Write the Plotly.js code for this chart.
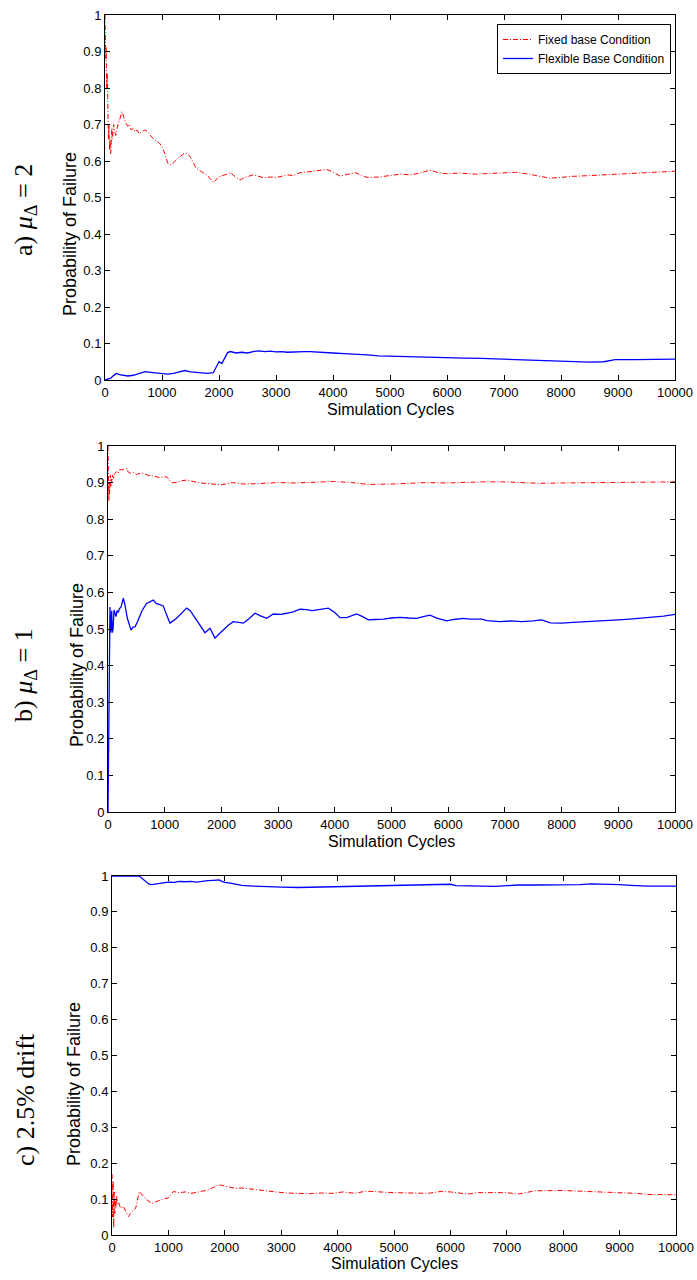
<!DOCTYPE html>
<html>
<head>
<meta charset="utf-8">
<script src="https://cdn.plot.ly/plotly-3.0.1.min.js"></script>
<style>
  html, body { margin: 0; padding: 0; background: #fff; }
  #chart { width: 697px; height: 1280px; }
</style>
</head>
<body>
<div id="chart"></div>
<script>
// ---- Panel a) mu_Delta = 2 ----
const aFixedCycles = [0,5,10,15,20,30,40,50,60,70,80,90,100,110,120,130,150,170,190,210,230,250,270,300,330,360,400,430,460,500,530,560,600,650,700,750,800,850,900,950,1000,1050,1100,1150,1200,1300,1400,1450,1500,1600,1700,1800,1900,1950,2000,2100,2200,2300,2370,2450,2600,2700,2780,2900,3000,3100,3200,3300,3420,3550,3700,3890,4000,4120,4250,4390,4500,4600,4800,5000,5180,5350,5500,5700,5850,6000,6200,6500,6800,7000,7200,7400,7600,7800,8000,8200,8500,8800,9000,9300,9600,10000];
const aFixedProb = [1.0,0.93,0.97,0.88,0.91,0.8,0.84,0.72,0.66,0.7,0.63,0.66,0.62,0.65,0.69,0.66,0.70,0.68,0.67,0.69,0.70,0.71,0.715,0.735,0.72,0.705,0.695,0.70,0.685,0.69,0.68,0.685,0.675,0.68,0.685,0.68,0.67,0.66,0.655,0.65,0.64,0.62,0.594,0.59,0.595,0.61,0.622,0.62,0.61,0.58,0.57,0.56,0.541,0.55,0.557,0.562,0.568,0.555,0.548,0.555,0.562,0.558,0.554,0.556,0.555,0.558,0.562,0.56,0.568,0.57,0.573,0.577,0.57,0.559,0.563,0.568,0.56,0.555,0.556,0.56,0.564,0.562,0.566,0.575,0.568,0.565,0.567,0.564,0.567,0.568,0.569,0.565,0.56,0.553,0.555,0.558,0.56,0.562,0.564,0.566,0.569,0.572];
const aFlexCycles = [0,50,100,150,200,250,300,400,500,600,700,800,900,1000,1100,1200,1300,1400,1500,1600,1700,1800,1900,1950,2000,2050,2100,2150,2200,2300,2400,2500,2600,2700,2800,2900,3000,3100,3200,3300,3400,3500,3600,3800,4000,4200,4400,4600,4800,5000,5300,5600,6000,6300,6600,7000,7300,7600,7900,8200,8500,8750,8850,8950,9300,9700,10000];
const aFlexProb = [0.0,0.002,0.005,0.012,0.018,0.015,0.013,0.011,0.013,0.018,0.023,0.021,0.019,0.018,0.016,0.018,0.022,0.026,0.022,0.02,0.019,0.018,0.02,0.035,0.05,0.045,0.06,0.075,0.078,0.074,0.076,0.074,0.078,0.08,0.078,0.079,0.077,0.078,0.076,0.077,0.079,0.078,0.078,0.077,0.074,0.072,0.071,0.069,0.066,0.065,0.064,0.063,0.061,0.06,0.059,0.057,0.056,0.054,0.052,0.051,0.049,0.05,0.052,0.056,0.056,0.057,0.057];

// ---- Panel b) mu_Delta = 1 ----
const bFixedCycles = [0,5,10,15,20,30,40,50,60,70,80,100,120,150,180,200,250,330,350,400,450,500,550,620,700,800,900,1035,1123,1200,1300,1388,1500,1590,1700,1800,1900,2000,2200,2400,2600,2800,3000,3300,3600,4000,4300,4600,5000,5300,5600,6000,6300,6600,7000,7300,7600,8000,8500,9000,9500,10000];
const bFixedProb = [1.0,0.96,0.88,0.85,0.9,0.87,0.92,0.89,0.91,0.9,0.92,0.91,0.925,0.93,0.925,0.935,0.935,0.939,0.93,0.925,0.927,0.922,0.925,0.926,0.92,0.918,0.914,0.916,0.9,0.9,0.905,0.907,0.903,0.9,0.898,0.897,0.895,0.894,0.9,0.896,0.897,0.899,0.9,0.899,0.9,0.903,0.9,0.895,0.896,0.898,0.9,0.899,0.901,0.902,0.902,0.9,0.898,0.899,0.9,0.901,0.902,0.902];
const bFlexCycles = [0,5,10,15,20,25,30,35,45,55,65,75,90,106,120,141,160,180,200,230,270,300,340,380,406,440,476,520,600,680,741,800,850,900,975,1030,1093,1200,1300,1388,1450,1564,1640,1711,1799,1887,1950,2034,2120,2210,2300,2387,2500,2593,2700,2799,2915,3050,3151,3268,3386,3500,3600,3700,3886,4000,4092,4209,4300,4386,4500,4591,4700,4856,5000,5150,5300,5444,5560,5679,5800,5973,6100,6267,6385,6591,6679,6914,7100,7300,7500,7650,7800,8000,8200,8500,8700,9000,9200,9500,9800,10000];
const bFlexProb = [0.0,0.1,0.3,0.4,0.35,0.45,0.5,0.56,0.49,0.53,0.55,0.49,0.5,0.552,0.545,0.534,0.55,0.545,0.555,0.56,0.584,0.565,0.53,0.505,0.497,0.505,0.506,0.52,0.55,0.57,0.575,0.579,0.57,0.568,0.563,0.54,0.516,0.528,0.545,0.557,0.55,0.525,0.505,0.49,0.502,0.475,0.485,0.497,0.51,0.52,0.518,0.516,0.53,0.543,0.535,0.529,0.541,0.54,0.543,0.547,0.554,0.553,0.55,0.552,0.557,0.545,0.531,0.531,0.537,0.541,0.533,0.525,0.526,0.527,0.53,0.532,0.53,0.529,0.534,0.538,0.53,0.522,0.526,0.529,0.527,0.527,0.523,0.52,0.522,0.52,0.522,0.525,0.517,0.516,0.518,0.52,0.522,0.525,0.527,0.53,0.535,0.54];

// ---- Panel c) 2.5% drift ----
const cFixedCycles = [0,10,20,30,40,50,60,70,80,100,120,150,200,250,290,330,380,420,484,550,600,704,800,900,1000,1087,1200,1300,1400,1500,1600,1700,1800,1900,2000,2100,2200,2300,2500,2700,2900,3100,3300,3500,3700,3900,4100,4300,4500,4700,5000,5300,5600,5816,6000,6300,6500,7000,7200,7500,7800,8000,8300,8500,9000,9300,9500,10000];
const cFixedProb = [0.17,0.05,0.15,0.02,0.12,0.06,0.1,0.075,0.11,0.085,0.09,0.075,0.08,0.065,0.051,0.06,0.07,0.075,0.121,0.11,0.1,0.088,0.095,0.1,0.103,0.121,0.118,0.12,0.116,0.118,0.122,0.125,0.132,0.14,0.136,0.132,0.13,0.131,0.127,0.122,0.12,0.117,0.116,0.115,0.117,0.116,0.12,0.116,0.122,0.12,0.118,0.117,0.116,0.121,0.12,0.114,0.118,0.118,0.114,0.123,0.124,0.124,0.122,0.121,0.118,0.116,0.113,0.112];
const cFlexCycles = [0,480,520,600,650,700,800,900,1000,1100,1200,1300,1400,1500,1600,1700,1800,1900,1950,2000,2100,2200,2300,2500,2700,3000,3300,3600,4000,4300,4600,4800,5200,5600,5800,6000,6100,6400,6600,6800,7000,7200,7500,8000,8300,8500,8800,9000,9200,9500,10000];
const cFlexProb = [1.0,1.0,0.995,0.985,0.978,0.976,0.978,0.981,0.983,0.982,0.985,0.984,0.985,0.983,0.986,0.987,0.988,0.989,0.985,0.982,0.98,0.976,0.974,0.972,0.97,0.969,0.968,0.969,0.97,0.971,0.972,0.972,0.974,0.974,0.976,0.977,0.973,0.972,0.973,0.971,0.973,0.975,0.975,0.975,0.976,0.978,0.978,0.976,0.974,0.972,0.972];

// ---- Axis ticks and labels ----
const cycleTicks = [0,1000,2000,3000,4000,5000,6000,7000,8000,9000,10000];
const probTicks = [0,0.1,0.2,0.3,0.4,0.5,0.6,0.7,0.8,0.9,1];
const probTickText = ['0','0.1','0.2','0.3','0.4','0.5','0.6','0.7','0.8','0.9','1'];
const seriesNames = ['Fixed base Condition', 'Flexible Base Condition'];
const panelLabels = ['a) <i>μ</i><sub>Δ</sub> = 2', 'b) <i>μ</i><sub>Δ</sub> = 1', 'c) 2.5% drift'];
const xTitle = 'Simulation Cycles';
const yTitle = 'Probability of Failure';

// ---- Page geometry (pixels) ----
const W = 697, H = 1280;
const boxes = [
  {l: 105, r: 675, t: 15,  b: 380, yTitleX: 70, yTitleY: 234, labelY: 210, xTitleY: 409},
  {l: 108, r: 675, t: 446, b: 812, yTitleX: 77, yTitleY: 665, labelY: 675, xTitleY: 841},
  {l: 112, r: 676, t: 876, b: 1235, yTitleX: 74, yTitleY: 1084, labelY: 1100, xTitleY: 1263}
];
const px = v => v / W;
const py = v => 1 - v / H;

const RED = '#ff0000', BLUE = '#0000ff';
const sansFont = {family: 'Liberation Sans, Arial, sans-serif', size: 13, color: '#000'};

const panels = [
  [aFixedCycles, aFixedProb, aFlexCycles, aFlexProb],
  [bFixedCycles, bFixedProb, bFlexCycles, bFlexProb],
  [cFixedCycles, cFixedProb, cFlexCycles, cFlexProb]
];

const traces = [];
panels.forEach((p, i) => {
  const sfx = i === 0 ? '' : String(i + 1);
  traces.push({
    x: p[0], y: p[1], type: 'scatter', mode: 'lines',
    name: seriesNames[0], showlegend: i === 0,
    xaxis: 'x' + sfx, yaxis: 'y' + sfx,
    line: {color: RED, width: 1, dash: '5px,2px,1px,2px'}
  });
  traces.push({
    x: p[2], y: p[3], type: 'scatter', mode: 'lines',
    name: seriesNames[1], showlegend: i === 0,
    xaxis: 'x' + sfx, yaxis: 'y' + sfx,
    line: {color: BLUE, width: 1.3}
  });
});

const layout = {
  width: W, height: H,
  margin: {l: 0, r: 0, t: 0, b: 0},
  paper_bgcolor: '#fff', plot_bgcolor: '#fff',
  showlegend: true,
  legend: {
    x: px(497), y: py(24), xanchor: 'left', yanchor: 'top',
    bgcolor: '#fff', bordercolor: '#000', borderwidth: 1,
    font: {family: sansFont.family, size: 12, color: '#000'},
    itemwidth: 30, tracegroupgap: 0
  },
  annotations: []
};

boxes.forEach((b, i) => {
  const sfx = i === 0 ? '' : String(i + 1);
  layout['xaxis' + sfx] = {
    domain: [px(b.l), px(b.r)], anchor: 'y' + sfx,
    range: [0, 10000], tickvals: cycleTicks, tickformat: 'd',
    ticks: 'inside', ticklen: 5, tickcolor: '#000',
    showline: true, linecolor: '#000', linewidth: 1, mirror: 'ticks',
    showgrid: false, zeroline: false, tickfont: sansFont, fixedrange: true
  };
  layout['yaxis' + sfx] = {
    domain: [py(b.b), py(b.t)], anchor: 'x' + sfx,
    range: [0, 1], tickvals: probTicks, ticktext: probTickText,
    ticks: 'inside', ticklen: 5, tickcolor: '#000',
    showline: true, linecolor: '#000', linewidth: 1, mirror: 'ticks',
    showgrid: false, zeroline: false, tickfont: sansFont, fixedrange: true
  };
  layout.annotations.push({
    xref: 'paper', yref: 'paper', x: px((b.l + b.r) / 2), y: py(b.xTitleY),
    text: xTitle, showarrow: false, xanchor: 'center', yanchor: 'middle',
    font: {family: sansFont.family, size: 16, color: '#000'}
  });
  layout.annotations.push({
    xref: 'paper', yref: 'paper', x: px(b.yTitleX), y: py(b.yTitleY),
    text: yTitle, showarrow: false, textangle: -90, xanchor: 'center', yanchor: 'middle',
    font: {family: sansFont.family, size: 18, color: '#000'}
  });
  layout.annotations.push({
    xref: 'paper', yref: 'paper', x: px(25), y: py(b.labelY),
    text: panelLabels[i], showarrow: false, textangle: -90, xanchor: 'center', yanchor: 'middle',
    font: {family: 'Liberation Serif, Times New Roman, serif', size: 26, color: '#000'}
  });
});

Plotly.newPlot('chart', traces, layout, {staticPlot: true, displayModeBar: false});
</script>
</body>
</html>
